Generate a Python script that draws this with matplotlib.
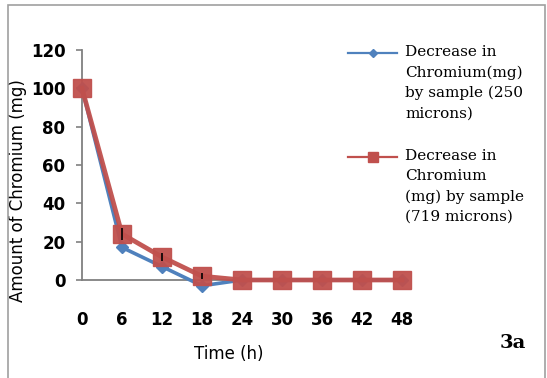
import matplotlib
matplotlib.use("Agg")
import matplotlib.pyplot as plt
from matplotlib.lines import Line2D
from matplotlib.patches import Rectangle

# data
hours = [0, 6, 12, 18, 24, 30, 36, 42, 48]
cr_250 = [100, 17, 7, -3, 0, 0, 0, 0, 0]
cr_719 = [100, 24, 12, 2, 0, 0, 0, 0, 0]
err_719 = [0, 3, 2, 1.5, 0, 0, 0, 0, 0]
yticks = [0, 20, 40, 60, 80, 100, 120]
legend_labels = [
    "Decrease in\nChromium(mg)\nby sample (250\nmicrons)",
    "Decrease in\nChromium\n(mg) by sample\n(719 microns)",
]

blue = "#4F81BD"
red = "#C0504D"

fig = plt.figure(figsize=(5.47, 3.78), dpi=100)
ax = fig.add_axes([82 / 547, 1 - 280 / 378, 320 / 547, 230 / 378])

ax.plot(hours, cr_250, color=blue, lw=2.6, marker="D", ms=6, clip_on=False, zorder=3)
ax.plot(hours, cr_719, color=red, lw=3.4, marker="s", ms=13, alpha=0.95,
        clip_on=False, zorder=4)
ax.errorbar(hours, cr_719, yerr=err_719, fmt="none", ecolor="black", elinewidth=1.2,
            capsize=0, zorder=5, clip_on=False)

ax.set_xlim(0, 48)
ax.set_ylim(0, 120)
ax.set_xticks(hours)
ax.set_yticks(yticks)
for side in ["top", "right"]:
    ax.spines[side].set_visible(False)
for side in ["left", "bottom"]:
    ax.spines[side].set_color("#808080")
    ax.spines[side].set_linewidth(1.3)
ax.tick_params(axis="y", length=4, width=1.2, color="#808080", pad=8, labelsize=12)
ax.tick_params(axis="x", length=0, pad=22, labelsize=12)
for lab in ax.get_xticklabels() + ax.get_yticklabels():
    lab.set_fontweight("bold")

ax.set_ylabel("Amount of Chromium (mg)", fontsize=12)
ax.yaxis.set_label_coords(-0.2, 0.39)
ax.yaxis.label.set_va("center")
ax.set_xlabel("Time (h)", fontsize=12)
ax.xaxis.set_label_coords(0.46, -0.32)
ax.xaxis.label.set_va("center")

# legend drawn by hand so the handle sits at the first text line
styles = [dict(color=blue, marker="D", ms=4.5),
          dict(color=red, marker="s", ms=7)]
first_line_y = [53, 157]
for label, style, y in zip(legend_labels, styles, first_line_y):
    fy = 1 - y / 378
    fig.add_artist(Line2D([348 / 547, 397 / 547], [fy, fy], transform=fig.transFigure,
                          color=style["color"], lw=1.6))
    fig.add_artist(Line2D([372.5 / 547], [fy], transform=fig.transFigure, lw=0, **style))
    fig.text(405 / 547, fy + 8 / 378, label, family="DejaVu Serif", fontsize=11,
             va="top", ha="left", linespacing=1.55)

fig.text(513 / 547, 1 - 343 / 378, "3a", family="DejaVu Serif", fontweight="bold",
         fontsize=14, ha="center", va="center")

# outer frame of the chart area
fig.add_artist(Rectangle((8 / 547, -0.1), 537 / 547, 1.1 - 5 / 378, transform=fig.transFigure,
                         fill=False, edgecolor="#a0a0a0", lw=1.2))

fig.savefig("out.png", dpi=100)
